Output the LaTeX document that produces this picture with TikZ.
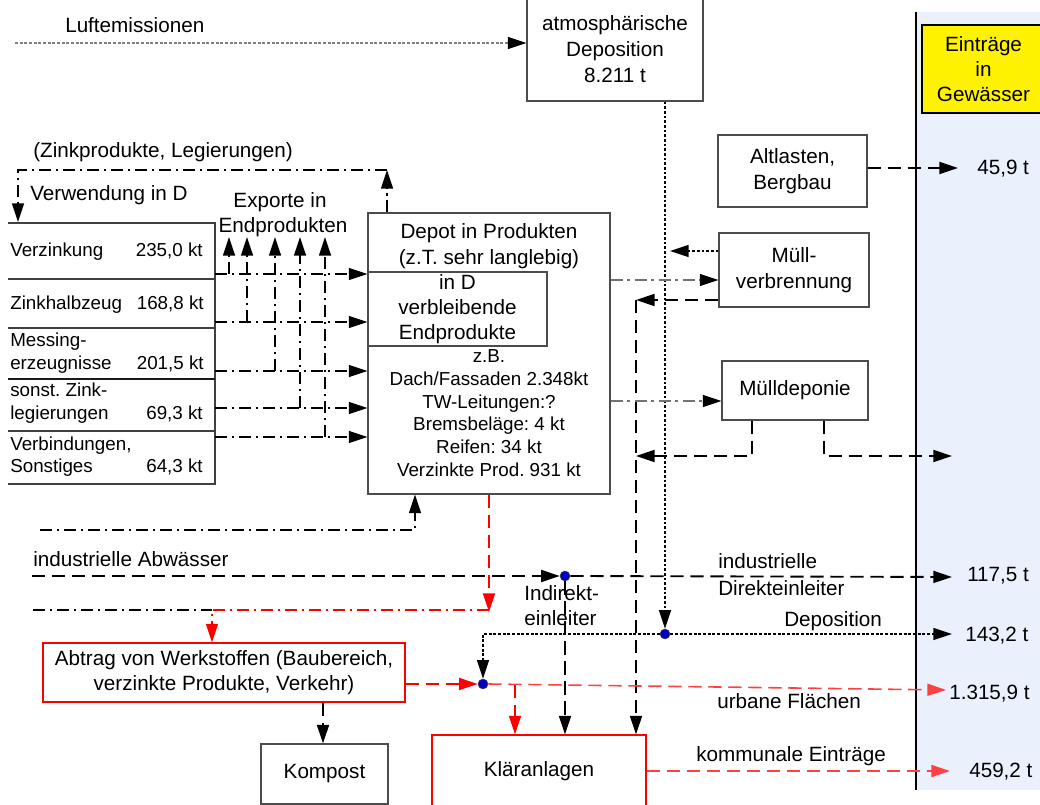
\documentclass[tikz,border=0pt]{standalone}
\usepackage{fontspec}
\setmainfont{Liberation Sans}
\usetikzlibrary{arrows.meta,calc}
\frenchspacing
\newcommand\myfbig{\fontsize{15.5pt}{19pt}\selectfont}
\newcommand\myfbigA{\fontsize{15.5pt}{19.5pt}\selectfont}
\newcommand\myfsmall{\fontsize{14.1pt}{17.25pt}\selectfont}
\newcommand\myfsmallD{\fontsize{14.1pt}{17pt}\selectfont}
\definecolor{panelblue}{RGB}{234,241,253}
\definecolor{dotblue}{RGB}{0,0,190}
\tikzset{
 box/.style={draw=black!70, line width=0.8pt, fill=white, inner sep=0pt, align=center, font=\myfbig},
 redbox/.style={box, draw=red},
 arr/.style={-{Triangle[length=14pt,width=9pt]}},
 arrk/.style={-{Triangle[length=14pt,width=9pt,color=black]}},
 dsh/.style={line width=1.4pt, dash pattern=on 10pt off 5pt},
 reddsh/.style={line width=1.3pt, draw=red, dash pattern=on 10pt off 5pt},
 ltreddsh/.style={line width=1.2pt, draw=red!75, dash pattern=on 10pt off 5pt},
 ddot/.style={line width=1.2pt, dash pattern=on 9pt off 3.5pt on 2pt off 3.5pt},
 ddgray/.style={ddot, draw=black!55, line width=1pt},
 fine/.style={line width=1.1pt, dash pattern=on 2.2pt off 1.3pt},
 jdot/.style={circle, fill=dotblue, draw=black!70, minimum size=7.5pt, inner sep=0pt},
 lbl/.style={font=\myfbig, inner sep=0pt},
 slbl/.style={font=\myfsmall, inner sep=0pt},
 tabline/.style={draw=black!75, line width=0.8pt},
}
\begin{document}
\begin{tikzpicture}[x=0.75pt,y=-0.75pt]
\useasboundingbox (0,0) rectangle (1040,805);
\fill[panelblue] (916,12) rectangle (1040,790);
\draw[line width=1.6pt] (916,12) -- (916,790);

% boxes
\node[box, minimum width=132pt, minimum height=78pt, font=\myfbigA] (atm) at (615,49) {atmosphärische\\Deposition\\8.211 t};
\node[box, fill=yellow, draw=black, line width=1.2pt, minimum width=92.25pt, minimum height=66pt] (ein) at (983.5,69) {Einträge\\in\\Gewässer};
\node[box, minimum width=111.75pt, minimum height=54pt] (alt) at (792.5,171) {Altlasten,\\Bergbau};
\node[box, minimum width=112.5pt, minimum height=55.5pt] (mv) at (794,270) {Müll-\\verbrennung};
\node[box, minimum width=109.5pt, minimum height=44.25pt] (md) at (795,390.5) {Mülldeponie};
\node[box, minimum width=181.5pt, minimum height=210.75pt] (depot) at (489,353.5) {};
\node[box, minimum width=134.25pt, minimum height=55.5pt] (inD) at (457.5,309) {in D\\verbleibende\\Endprodukte};
\node[lbl, align=center] (dep1) at (489,246) {Depot in Produkten\\(z.T. sehr langlebig)};
\node[lbl, align=center, font=\myfsmallD] (dep2) at (489,413) {z.B.\\Dach/Fassaden 2.348kt\\TW-Leitungen:?\\Bremsbeläge: 4 kt\\Reifen: 34 kt\\Verzinkte Prod. 931 kt};
\node[redbox, minimum width=271.5pt, minimum height=44.25pt] (ab) at (224,672.5) {Abtrag von Werkstoffen (Baubereich,\\verzinkte Produkte, Verkehr)};
\node[box, minimum width=95.25pt, minimum height=45pt] (ko) at (324.5,774) {Kompost};
\node[redbox, minimum width=160.5pt, minimum height=54pt] (kl) at (539,771) {Kläranlagen};

% junction dots
\node[jdot] (d1) at (565,576) {};
\node[jdot] (d2) at (665,634) {};
\node[jdot] (d3) at (483,684) {};

% table
\draw[tabline] (8,223) -- (215,223) -- (215,484) -- (8,484);
\draw[tabline] (8,279) -- (215,279);
\draw[tabline] (8,328) -- (215,328);
\draw[tabline, line width=1.5pt, draw=black!90] (8,379) -- (215,379);
\draw[tabline] (8,431) -- (215,431);
\node[slbl, anchor=base west] (t1a) at (10,257) {Verzinkung};
\node[slbl, anchor=base east] (t1b) at (203,257) {235,0 kt};
\node[slbl, anchor=base west] (t2a) at (10,310) {Zinkhalbzeug};
\node[slbl, anchor=base east] (t2b) at (204,310) {168,8 kt};
\node[slbl, anchor=base west] (t3a) at (10,347) {Messing-};
\node[slbl, anchor=base west] (t3c) at (10,370) {erzeugnisse};
\node[slbl, anchor=base east] (t3b) at (204,370) {201,5 kt};
\node[slbl, anchor=base west] (t4a) at (10,397) {sonst. Zink-};
\node[slbl, anchor=base west] (t4c) at (10,420) {legierungen};
\node[slbl, anchor=base east] (t4b) at (203,420) {69,3 kt};
\node[slbl, anchor=base west] (t5a) at (10,451) {Verbindungen,};
\node[slbl, anchor=base west] (t5c) at (10,473) {Sonstiges};
\node[slbl, anchor=base east] (t5b) at (203,473) {64,3 kt};

% labels
\node[lbl, anchor=base west] (lLuft) at (65,33) {Luftemissionen};
\node[lbl, anchor=base west] (lZink) at (33,158) {(Zinkprodukte, Legierungen)};
\node[lbl, anchor=base west] (lVerw) at (30,201) {Verwendung in D};
\node[lbl, anchor=base] (lExp1) at (280,208) {Exporte in};
\node[lbl, anchor=base] (lExp2) at (283,233) {Endprodukten};
\node[lbl, anchor=base west] (lIA) at (33,567) {industrielle Abwässer};
\node[lbl, anchor=base west] (lID1) at (718,569) {industrielle};
\node[lbl, anchor=base west] (lID2) at (718,596) {Direkteinleiter};
\node[lbl, anchor=base west] (lIn1) at (524,601) {Indirekt-};
\node[lbl, anchor=base west] (lIn2) at (524,626) {einleiter};
\node[lbl, anchor=base west] (lDep) at (784,627) {Deposition};
\node[lbl, anchor=base west] (lUrb) at (717,709) {urbane Flächen};
\node[lbl, anchor=base west] (lKom) at (696,761) {kommunale Einträge};
\node[lbl, anchor=base west] (v1) at (977,175) {45,9 t};
\node[lbl, anchor=base west] (v2) at (967,582) {117,5 t};
\node[lbl, anchor=base west] (v3) at (965,642) {143,2 t};
\node[lbl, anchor=base west] (v4) at (949,700) {1.315,9 t};
\node[lbl, anchor=base west] (v5) at (969,777) {459,2 t};

% coordinates
\coordinate (luft) at (15,43);
\coordinate (mvin) at (670,251);
\coordinate (h1) at (0,280);
\coordinate (c1) at (636,300);
\coordinate (h2) at (0,401);
\coordinate (c2) at (752,456);
\coordinate (c3) at (824,456);
\coordinate (t0) at (952,456);
\coordinate (t1) at (958,168);
\coordinate (z1) at (387,170);
\coordinate (z2) at (18,170);
\coordinate (z3) at (18,222);
\coordinate (b1) at (40,530);
\coordinate (b2) at (415,530);
\coordinate (ia) at (32,576);
\coordinate (t2) at (952,577);
\coordinate (rd) at (489,612);
\coordinate (l1) at (33,610);
\coordinate (l2) at (212,610);
\coordinate (l3) at (489,610);
\coordinate (k1) at (323,0);
\coordinate (t4) at (946,690);
\coordinate (u1) at (515,685);
\coordinate (t3) at (952,634);
\coordinate (c4) at (483,634);
\coordinate (t5) at (950,771);
\coordinate (r1) at (215,274);
\coordinate (r2) at (215,322);
\coordinate (r3) at (215,371);
\coordinate (r4) at (215,408);
\coordinate (r5) at (215,437);
\coordinate (x1) at (229,237);
\coordinate (x2) at (247,237);
\coordinate (x3) at (275,237);
\coordinate (x4) at (300,237);
\coordinate (x5) at (325,237);

% connectors
\draw[fine, draw=black!50, line width=0.9pt, arrk] (luft) -- (luft -| atm.west);
\draw[fine, arr] (d2 |- atm.south) -- (d2.north);
\draw[fine, arr] (mvin -| mv.west) -- (mvin);
\draw[ddgray, arrk] (depot.east |- h1) -- (mv.west |- h1);
\draw[dsh, arr] (mv.west |- c1) -- (c1);
\draw[dsh, arr] (c1) -- (c1 |- kl.north);
\draw[ddgray, arrk] (depot.east |- h2) -- (md.west |- h2);
\draw[dsh, arr] (c2 |- md.south) -- (c2) -- (c1 |- c2);
\draw[dsh, arr] (c3 |- md.south) -- (c3) -- (t0);
\draw[dsh, arr] (alt.east |- t1) -- (t1);

\foreach \r in {1,...,5}{
  \draw[ddot, arr] (r\r) -- (r\r -| depot.west);
  \draw[ddot, arr] (x\r |- r\r) -- (x\r);
}

\draw[ddot, arr] (z1 |- depot.north) -- (z1);
\draw[ddot, arr] (z1) -- (z2) -- (z3);
\draw[ddot, arr] (b1) -- (b2) -- (b2 |- depot.south);

\draw[dsh, arr] (ia) -- (d1.west);
\draw[dsh, arr] (d1.east) -- (t2);
\draw[dsh, arr] (d1.south) -- (d1 |- kl.north);

\draw[reddsh, arr] (rd |- depot.south) -- (rd);
\draw[ddot] (l1) -- (l2);
\draw[ddot, draw=red, arr] (l3) -- (l2) -- (l2 |- ab.north);
\draw[reddsh, arr] (ab.east |- d3) -- (d3.west);
\draw[dsh, arr] (k1 |- ab.south) -- (k1 |- ko.north);

\draw[ltreddsh, arr] (d3.east) -- (t4);
\draw[reddsh, arr] (u1) -- (u1 |- kl.north);
\draw[fine, arr] (d2.east) -- (t3);
\draw[fine, arr] (d2.west) -- (c4) -- (d3.north);
\draw[ltreddsh, arr] (kl.east |- t5) -- (t5);
\end{tikzpicture}
\end{document}
